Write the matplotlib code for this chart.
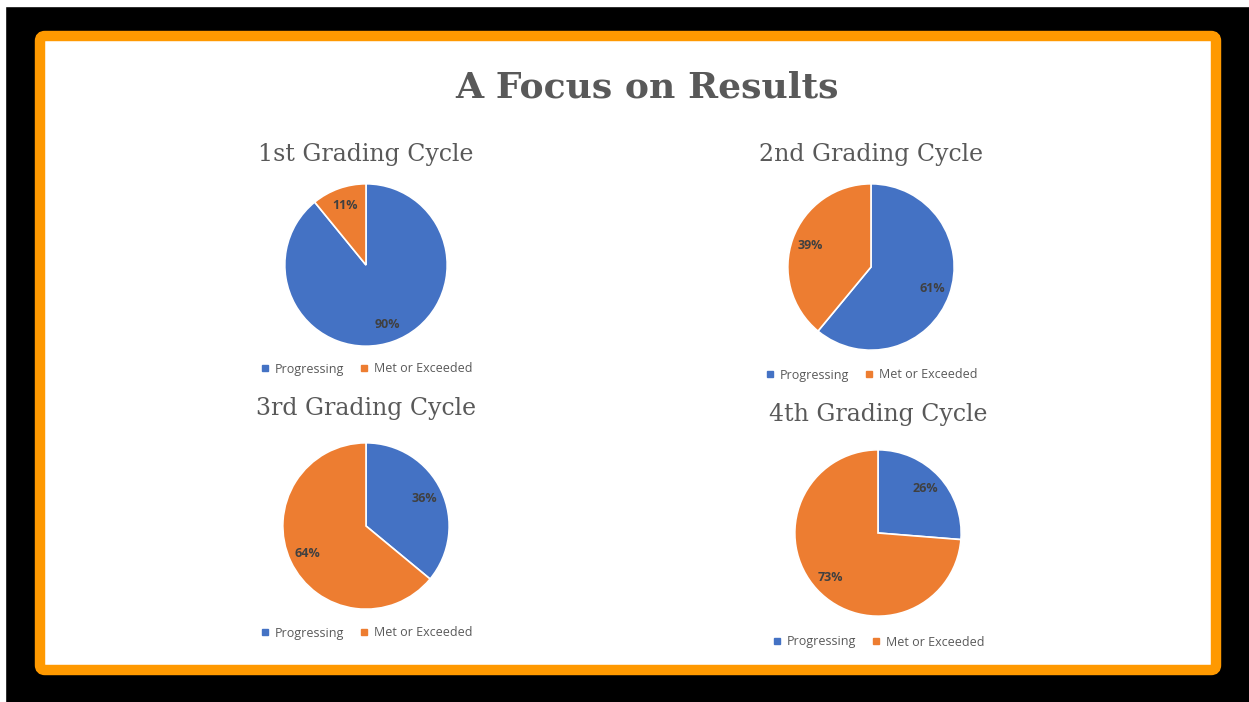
import matplotlib.pyplot as plt
from matplotlib.patches import FancyBboxPatch, Rectangle
from matplotlib.lines import Line2D

W, H = 1249, 702

titles = ["1st Grading Cycle", "2nd Grading Cycle", "3rd Grading Cycle", "4th Grading Cycle"]
categories = ["Progressing", "Met or Exceeded"]
progressing = [90, 61, 36, 26]
met_or_exceeded = [11, 39, 64, 73]
colors = ["#4472C4", "#ED7D31"]

# pie centre (px), radius (px), title y, legend y
layout = [
    ((366, 265), 82, 155, 369),
    ((871, 267), 84, 154, 375),
    ((366, 526), 84, 408, 633),
    ((878, 533), 84, 414, 642),
]

fig = plt.figure(figsize=(W / 100, H / 100), dpi=100)
fig.patch.set_facecolor("black")

bg = fig.add_axes([0, 0, 1, 1])
bg.set_xlim(0, W)
bg.set_ylim(H, 0)
bg.axis("off")
bg.add_patch(Rectangle((0, 0), W, 6, color="white", zorder=1))
bg.add_patch(Rectangle((0, 0), 5, H, color="white", zorder=1))
bg.add_patch(FancyBboxPatch((40, 36), 1176, 634, boxstyle="round,pad=0,rounding_size=5",
                            facecolor="white", edgecolor="#FF9900", linewidth=7.5, zorder=2))

bg.text(647, 88, "A Focus on Results", ha="center", va="center", fontsize=26,
        fontweight="bold", family="DejaVu Serif", color="#595959", zorder=3)

for i, ((cx, cy), r, ty, ly) in enumerate(layout):
    bg.text(cx, ty, titles[i], ha="center", va="center", fontsize=17,
            family="DejaVu Serif", color="#595959", zorder=3)

    size = 2 * r
    ax = fig.add_axes([(cx - r) / W, 1 - (cy + r) / H, size / W, size / H])
    vals = [progressing[i], met_or_exceeded[i]]
    wedges, texts = ax.pie(vals, colors=colors, startangle=90, counterclock=False,
                           labels=[f"{v}%" for v in vals], labeldistance=0.78,
                           wedgeprops=dict(edgecolor="white", linewidth=1.2),
                           textprops=dict(fontsize=9, fontweight="bold",
                                          family="Open Sans", color="#404040"))
    for t in texts:
        t.set_ha("center")
        t.set_va("center")
    ax.set_xlim(-1.01, 1.01)
    ax.set_ylim(-1.01, 1.01)
    ax.set_aspect("equal")

    handles = [Line2D([], [], marker="s", linestyle="none", markersize=5,
                      markerfacecolor=c, markeredgecolor=c) for c in colors]
    fig.legend(handles, categories, loc="center", bbox_to_anchor=(cx / W, 1 - ly / H),
               ncol=2, frameon=False, prop=dict(family="Open Sans", size=9),
               labelcolor="#595959", handlelength=0.8, handletextpad=0.4,
               columnspacing=1.2)

fig.savefig("out.png", dpi=100, facecolor=fig.get_facecolor())
